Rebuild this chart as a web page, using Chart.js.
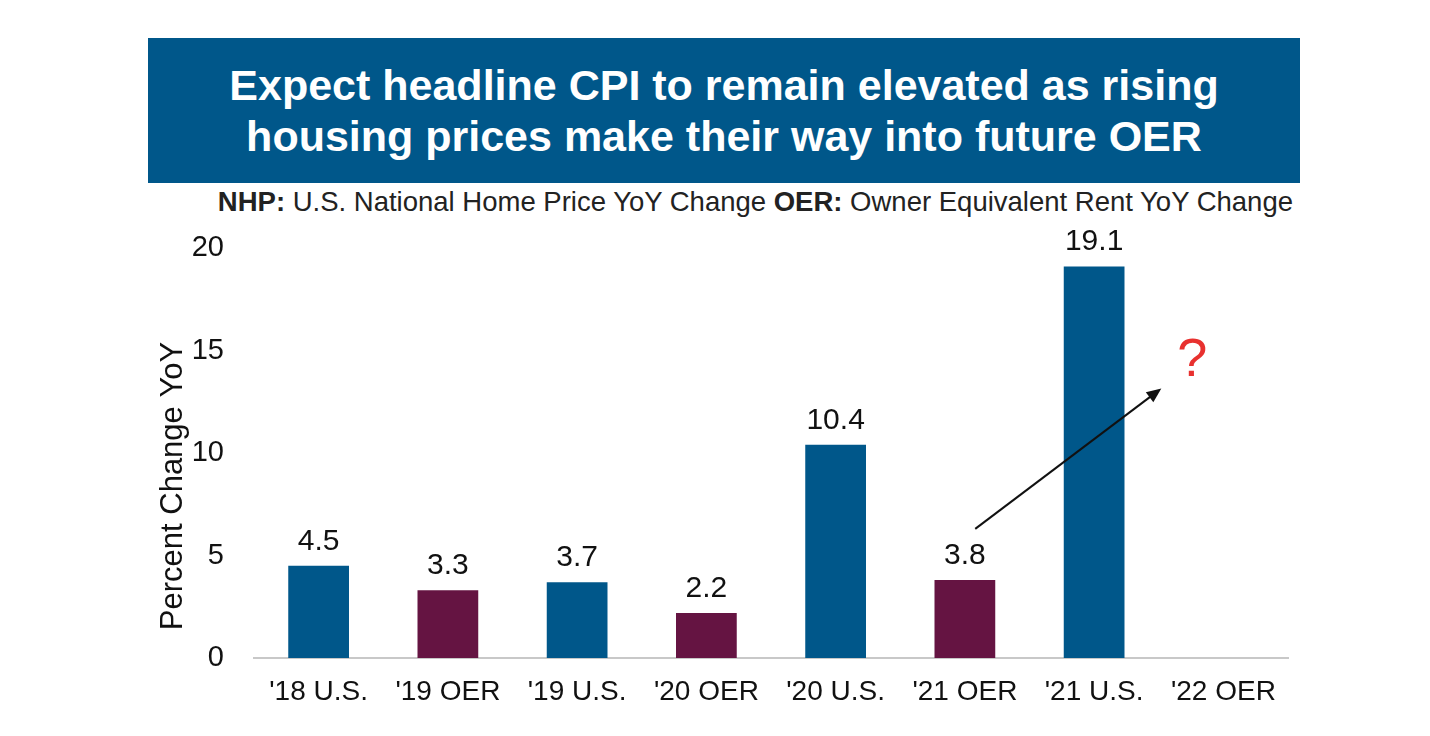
<!DOCTYPE html>
<html>
<head>
<meta charset="utf-8">
<script src="https://cdn.jsdelivr.net/npm/chart.js@4/dist/chart.umd.min.js"></script>
<style>
    html, body { margin: 0; padding: 0; background: #fff; }
    body { width: 1430px; height: 736px; position: relative; overflow: hidden; font-family: "Liberation Sans", Arial, sans-serif; }
    #titleBox {
        position: absolute; left: 148px; top: 38px; width: 1152px; height: 145px;
        background: #00578a; color: #fff; font-weight: bold; font-size: 43px;
        line-height: 51px; text-align: center; display: flex; align-items: center; justify-content: center;
    }
    #sub {
        position: absolute; right: 137px; top: 186px; font-size: 27.5px; color: #222; white-space: nowrap;
    }
    #wrap { position: absolute; left: 0; top: 0; width: 1430px; height: 736px; }
</style>
</head>
<body>
<div id="titleBox"><div>Expect headline CPI to remain elevated as rising<br>housing prices make their way into future OER</div></div>
<div id="sub"><b>NHP:</b> U.S. National Home Price YoY Change <b>OER:</b> Owner Equivalent Rent YoY Change</div>
<div id="wrap"><canvas id="chart"></canvas></div>
<script>
const categories = ["'18 U.S.", "'19 OER", "'19 U.S.", "'20 OER", "'20 U.S.", "'21 OER", "'21 U.S.", "'22 OER"];
const values = [4.5, 3.3, 3.7, 2.2, 10.4, 3.8, 19.1, null];
const seriesType = ['NHP', 'OER', 'NHP', 'OER', 'NHP', 'OER', 'NHP', 'OER'];
const yTicks = [0, 5, 10, 15, 20];
const yTitle = 'Percent Change YoY';

// arrow and question mark, in data units (category index, value)
const arrowFrom = [5.08, 6.3];
const arrowTo = [6.52, 13.15];
const questionAt = [6.76, 14.5];

const colors = {NHP: '#00578a', OER: '#651442'};
const font = '"Liberation Sans", Arial, sans-serif';

const labelPlugin = {
    id: 'labels',
    afterDatasetsDraw(chart) {
        const ctx = chart.ctx;
        const area = chart.chartArea;
        const meta = chart.getDatasetMeta(0);
        ctx.save();
        ctx.font = '30px ' + font;
        ctx.fillStyle = '#111';
        ctx.textAlign = 'center';
        ctx.textBaseline = 'alphabetic';
        meta.data.forEach((bar, i) => {
            if (values[i] == null) return;
            ctx.fillText(values[i].toFixed(1), bar.x, bar.y - 16);
        });

        // y axis title, sits lower than the axis centre
        ctx.save();
        ctx.translate(area.left - 81, area.bottom - 172);
        ctx.rotate(-Math.PI / 2);
        ctx.font = '31px ' + font;
        ctx.textBaseline = 'middle';
        ctx.fillText(yTitle, 0, 0);
        ctx.restore();

        const xs = chart.scales.x, ys = chart.scales.y;
        const x1 = xs.getPixelForValue(arrowFrom[0]), y1 = ys.getPixelForValue(arrowFrom[1]);
        const x2 = xs.getPixelForValue(arrowTo[0]), y2 = ys.getPixelForValue(arrowTo[1]);
        const ang = Math.atan2(y2 - y1, x2 - x1);
        const hl = 16;
        ctx.strokeStyle = '#111';
        ctx.lineWidth = 2;
        ctx.beginPath();
        ctx.moveTo(x1, y1);
        ctx.lineTo(x2 - Math.cos(ang) * hl * 0.8, y2 - Math.sin(ang) * hl * 0.8);
        ctx.stroke();
        ctx.fillStyle = '#111';
        ctx.beginPath();
        ctx.moveTo(x2, y2);
        ctx.lineTo(x2 - hl * Math.cos(ang - 0.4), y2 - hl * Math.sin(ang - 0.4));
        ctx.lineTo(x2 - hl * Math.cos(ang + 0.4), y2 - hl * Math.sin(ang + 0.4));
        ctx.closePath();
        ctx.fill();

        ctx.font = '54px ' + font;
        ctx.fillStyle = '#e8312f';
        ctx.textBaseline = 'middle';
        ctx.fillText('?', xs.getPixelForValue(questionAt[0]), ys.getPixelForValue(questionAt[1]));
        ctx.restore();
    }
};

new Chart(document.getElementById('chart'), {
    type: 'bar',
    data: {
        labels: categories,
        datasets: [{
            data: values,
            backgroundColor: seriesType.map(t => colors[t]),
            barPercentage: 0.94,
            categoryPercentage: 0.5
        }]
    },
    options: {
        responsive: true,
        maintainAspectRatio: false,
        animation: false,
        layout: {padding: {left: 150, right: 142, top: 248, bottom: 0}},
        plugins: {legend: {display: false}, tooltip: {enabled: false}},
        scales: {
            x: {
                grid: {display: false, drawTicks: false},
                border: {color: '#c8c8c8', width: 2},
                ticks: {color: '#111', font: {family: font, size: 28}, padding: 17},
                afterFit: s => { s.height = 78; }
            },
            y: {
                min: 0, max: 20,
                afterBuildTicks: s => { s.ticks = yTicks.map(v => ({value: v})); },
                grid: {display: false, drawTicks: false},
                border: {display: false},
                ticks: {color: '#111', font: {family: font, size: 29}, padding: 30},
                afterFit: s => { s.width = 104; }
            }
        }
    },
    plugins: [labelPlugin]
});
</script>
</body>
</html>
